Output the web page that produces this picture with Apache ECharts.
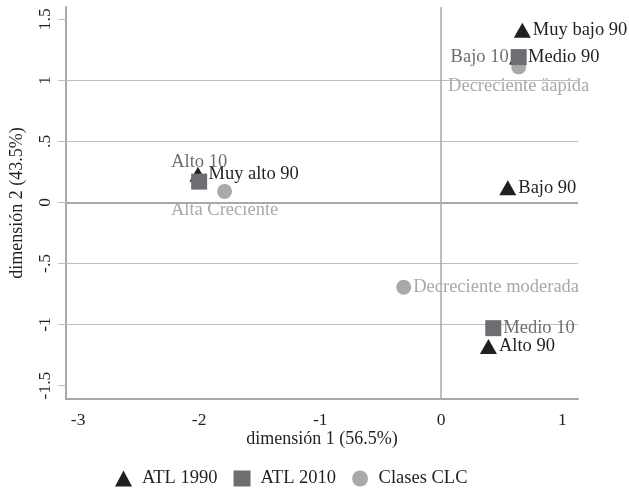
<!DOCTYPE html>
<html>
<head>
<meta charset="utf-8">
<script src="https://cdn.jsdelivr.net/npm/echarts@6/dist/echarts.min.js"></script>
<style>
html,body{margin:0;padding:0;background:#fff;}
#chart{width:629px;height:491px;}
</style>
</head>
<body>
<div id="chart"></div>
<script>
// ---- data ----
const atl1990Names = ['Muy bajo 90', 'Medio 90', 'Bajo 90', 'Muy alto 90', 'Alto 90'];
const atl1990X = [0.67, 0.63, 0.55, -2.01, 0.39];
const atl1990Y = [1.41, 1.19, 0.12, 0.23, -1.18];

const atl2010Names = ['Bajo 10', 'Alto 10', 'Medio 10'];
const atl2010X = [0.64, -2.00, 0.43];
const atl2010Y = [1.19, 0.17, -1.03];

const clcNames = ['Decreciente äapida', 'Alta Creciente', 'Decreciente moderada'];
const clcX = [0.64, -1.79, -0.31];
const clcY = [1.11, 0.09, -0.695];

const xTicks = [-3, -2, -1, 0, 1];
const yTicks = [-1.5, -1, -0.5, 0, 0.5, 1, 1.5];

const seriesNames = ['ATL 1990', 'ATL 2010', 'Clases CLC'];
const xTitle = 'dimensión 1 (56.5%)';
const yTitle = 'dimensión 2 (43.5%)';

// ---- style ----
const FONT = 'Liberation Serif';
const C1 = '#231f20', C2 = '#6d6e71', C3 = '#a7a9ac';
const AXIS = '#a7a9ac', GRID = '#bcbec0';

const pos1990 = ['right', 'right', 'right', 'right', 'right'];
const pos2010 = ['left', 'top', 'right'];
const posClc = ['bottom', 'bottom', 'right'];

function build(names, xs, ys, pos) {
  return names.map((n, i) => ({
    name: n,
    value: [xs[i], ys[i]],
    label: { position: pos[i] }
  }));
}

function fmtY(v) {
  let s = String(v);
  s = s.replace(/^0\./, '.').replace(/^-0\./, '-.');
  return s;
}

const chart = echarts.init(document.getElementById('chart'), null, { renderer: 'canvas' });

const labelBase = (color) => ({
  show: true,
  formatter: p => p.name,
  color: color,
  fontFamily: FONT,
  fontSize: 18.5,
  distance: 2
});

chart.setOption({
  animation: false,
  backgroundColor: '#fff',
  textStyle: { fontFamily: FONT },
  grid: { left: 66, right: 51, top: 7, bottom: 92, containLabel: false },
  xAxis: {
    type: 'value',
    min: -3.10,
    max: 1.13,
    name: xTitle,
    nameLocation: 'middle',
    nameGap: 31,
    nameMoveOverlap: false,
    nameTextStyle: { fontFamily: FONT, fontSize: 18, color: C1 },
    axisLine: { show: true, onZero: false, lineStyle: { color: AXIS, width: 2 } },
    axisTick: { show: false },
    splitLine: { show: false },
    axisLabel: {
      customValues: xTicks,
      fontFamily: FONT, fontSize: 17.5, color: C1, margin: 12
    }
  },
  yAxis: {
    type: 'value',
    min: -1.61,
    max: 1.60,
    name: yTitle,
    nameLocation: 'middle',
    nameGap: 40,
    nameRotate: 90,
    nameMoveOverlap: false,
    nameTextStyle: { fontFamily: FONT, fontSize: 18, color: C1 },
    axisLine: { show: true, onZero: false, lineStyle: { color: AXIS, width: 2 } },
    axisTick: { show: true, customValues: yTicks, length: 8, lineStyle: { color: GRID, width: 1 } },
    splitLine: { show: true, showMinLine: false, showMaxLine: false, lineStyle: { color: GRID, width: 1 } },
    axisLabel: {
      customValues: yTicks,
      rotate: 90,
      formatter: fmtY,
      fontFamily: FONT, fontSize: 17.5, color: C1, margin: 12
    }
  },
  legend: {
    top: 469,
    left: 115,
    padding: 0,
    itemGap: 16,
    itemWidth: 17,
    itemHeight: 16,
    textStyle: { fontFamily: FONT, fontSize: 18.5, color: C1, padding: [0, 0, 0, 5] },
    data: [
      { name: seriesNames[0], icon: 'triangle', itemStyle: { color: C1 } },
      { name: seriesNames[1], icon: 'rect', itemStyle: { color: C2 } },
      { name: seriesNames[2], icon: 'circle', itemStyle: { color: C3 } }
    ]
  },
  series: [
    {
      name: seriesNames[2],
      type: 'scatter',
      symbol: 'circle',
      symbolSize: 15,
      itemStyle: { color: C3, opacity: 1 },
      label: labelBase(C3),
      data: build(clcNames, clcX, clcY, posClc),
      z: 2,
      markLine: {
        silent: true,
        symbol: 'none',
        label: { show: false },
        animation: false,
        data: [
          { xAxis: 0, lineStyle: { color: AXIS, width: 1.5, type: 'solid' } },
          { yAxis: 0, lineStyle: { color: AXIS, width: 2.2, type: 'solid' } }
        ]
      }
    },
    {
      name: seriesNames[0],
      type: 'scatter',
      symbol: 'triangle',
      symbolSize: [17, 15],
      itemStyle: { color: C1, opacity: 1 },
      label: labelBase(C1),
      data: build(atl1990Names, atl1990X, atl1990Y, pos1990),
      z: 3
    },
    {
      name: seriesNames[1],
      type: 'scatter',
      symbol: 'rect',
      symbolSize: 16,
      itemStyle: { color: C2, opacity: 1 },
      label: labelBase(C2),
      data: build(atl2010Names, atl2010X, atl2010Y, pos2010),
      z: 4
    }
  ]
});
</script>
</body>
</html>
